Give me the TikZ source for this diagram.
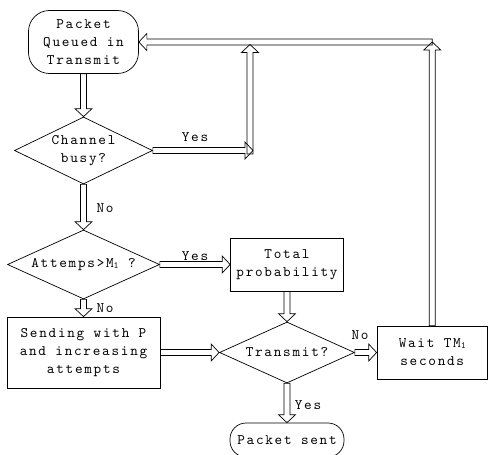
\documentclass[tikz,border=0pt]{standalone}
\usepackage{fontspec}
\newfontfamily\reff{lmmono10-regular.otf}[LetterSpace=12]
\usetikzlibrary{calc,shapes.geometric}
\newcommand\sone{\raisebox{-1pt}{\fontsize{9.5}{9.5}\selectfont 1}}
\tikzset{
  lw/.style={line width=0.7pt},
  txt/.style={font=\reff\fontsize{14.5}{18}\selectfont, align=center, inner sep=0pt},
  term/.style={txt, draw, lw, rounded corners=#1},
  boxn/.style={txt, draw, lw},
  dia/.style={draw, lw, diamond, inner sep=0pt},
  blk/.style={draw, lw, line join=miter, to path={
    let \p1=($(\tikztotarget)-(\tikztostart)$),
        \n1={veclen(\x1,\y1)},
        \n2={atan2(\y1,\x1)}
    in [shift={(\tikztostart)}, rotate=\n2]
    (0pt,-3pt) -- ({\n1-8pt},-3pt) -- ({\n1-8pt},-8.5pt) -- ({\n1+0pt},0pt)
    -- ({\n1-8pt},8.5pt) -- ({\n1-8pt},3pt) -- (0pt,3pt) -- cycle}}
}
\begin{document}
\begin{tikzpicture}[x=1pt,y=-1pt]
\useasboundingbox (0,0) rectangle (488,455);
\clip (0,0) rectangle (488,455);
\node[term=21pt, minimum width=110pt, minimum height=63pt] (q) at (83.5,42) {Packet\\Queued in\\Transmit};
\node[dia, minimum width=138pt, minimum height=67pt] (cb) at (83.5,150.5) {};
\node[txt] (cbt) at (cb) {Channel\\busy?};
\node[dia, minimum width=152pt, minimum height=69pt] (at) at (83.5,264.5) {};
\node[txt] (att) at (at) {Attemps>M\sone\ ?};
\node[boxn, minimum width=113pt, minimum height=53pt] (tp) at (287,264.5) {Total\\probability};
\node[boxn, minimum width=153pt, minimum height=71pt] (sw) at (83.5,352.5) {Sending with P\\and increasing\\attempts};
\node[dia, minimum width=135pt, minimum height=61pt] (tr) at (287,352.5) {};
\node[txt] (trt) at (tr) {Transmit?};
\node[boxn, minimum width=110.5pt, minimum height=53pt] (w) at (432.25,352.5) {Wait TM\sone\\seconds};
\node[term=16pt, minimum width=114pt, minimum height=34pt] (ps) at (287,440) {Packet sent};
\coordinate (ya) at (253,150.5);
\coordinate (yb) at (250,154);
\coordinate (yt) at (250,44.5);
\coordinate (rt) at (432.25,42);
\draw[blk] (q.south) to (cb.north);
\draw[blk] (cb.east) to (ya);
\draw[blk] (yb) to (yt);
\draw[blk] (rt) to (q.east);
\draw[blk] (w.north) to (rt);
\draw[blk] (cb.south) to (at.north);
\draw[blk] (at.east) to (tp.west);
\draw[blk] (at.south) to (sw.north);
\draw[blk] (tp.south) to (tr.north);
\draw[blk] (sw.east) to (tr.west);
\draw[blk] (tr.east) to (w.west);
\draw[blk] (tr.south) to (ps.north);
\node[txt] (l1) at (195,137) {Yes};
\node[txt] (l2) at (105,208.5) {No};
\node[txt] (l3) at (195,256) {Yes};
\node[txt] (l4) at (105,308.5) {No};
\node[txt] (l5) at (360,335) {No};
\node[txt] (l6) at (308,405) {Yes};
\end{tikzpicture}
\end{document}
